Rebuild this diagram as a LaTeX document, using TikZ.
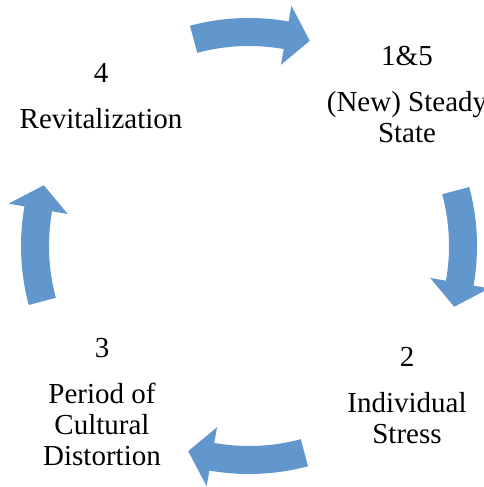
\documentclass[tikz,border=0pt]{standalone}
\usepackage{fontspec}
\setmainfont{Liberation Serif}
\definecolor{arrowblue}{RGB}{97,151,204}
\tikzset{
    stage/.style={align=center, inner sep=0pt, font=\fontsize{29}{31}\selectfont},
    cyclearrow/.style={fill=arrowblue, draw=none}
}
\begin{document}
\begin{tikzpicture}[x=1pt, y=1pt]
    \useasboundingbox (0,0) rectangle (484,487);
    \coordinate (c) at (249,241);
    % the four stages
    \node[stage] (steady) at (407,392) {1\&5\\[15pt](New) Steady\\State};
    \node[stage] (stress) at (407,91) {2\\[15pt]Individual\\Stress};
    \node[stage] (distortion) at (102,84.5) {3\\[15pt]Period of\\Cultural\\Distortion};
    \node[stage] (revital) at (101,390.5) {4\\[15pt]Revitalization};
    % curved arrows, clockwise
    \foreach \ax in {90,0,-90,180}
        \fill[cyclearrow, shift={(c)}] (\ax+15:228pt)
            arc[start angle=\ax+15, end angle=\ax-10, radius=228pt]
            -- (\ax-10:244pt) -- (\ax-16.5:214pt) -- (\ax-10:184pt) -- (\ax-10:200pt)
            arc[start angle=\ax-10, end angle=\ax+15, radius=200pt] -- cycle;
\end{tikzpicture}
\end{document}
